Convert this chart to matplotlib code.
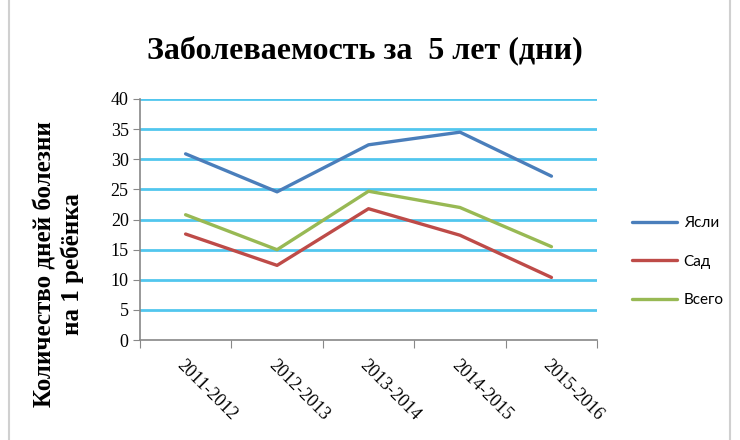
import matplotlib
matplotlib.use("Agg")
import matplotlib.pyplot as plt
from matplotlib.patches import Rectangle

categories = ["2011-2012", "2012-2013", "2013-2014", "2014-2015", "2015-2016"]
yasli = [30.9, 24.6, 32.4, 34.5, 27.2]
sad = [17.6, 12.4, 21.8, 17.4, 10.4]
vsego = [20.8, 15.0, 24.7, 22.0, 15.5]
series_names = ["Ясли", "Сад", "Всего"]
yticks = [0, 5, 10, 15, 20, 25, 30, 35, 40]

fig = plt.figure(figsize=(7.4, 4.4), dpi=100)
ax = fig.add_axes([0.189, 0.227, 0.618, 0.548])

for v in yticks[1:]:
    ax.axhline(v, color="#52C6EE", lw=2.0, zorder=1)

x = range(len(categories))
colors = ["#4A7EBB", "#BE4B48", "#98B954"]
for vals, c, n in zip([yasli, sad, vsego], colors, series_names):
    ax.plot(x, vals, color=c, lw=2.4, label=n, zorder=3, solid_capstyle="round")

ax.set_xlim(-0.5, 4.5)
ax.set_ylim(0, 40)
ax.set_yticks(yticks)
ax.set_xticks([i - 0.5 for i in range(6)], minor=False)
ax.set_xticklabels([])
ax.set_xticks(list(x), minor=True)
ax.set_xticklabels(categories, minor=True, rotation=-45, ha="left", va="top",
                   rotation_mode="anchor", family="Liberation Serif", fontsize=13)
ax.tick_params(axis="x", which="minor", length=0, pad=12)
ax.tick_params(axis="x", which="major", length=6, color="#888888", direction="out")
ax.tick_params(axis="y", length=5, color="#888888", direction="out", pad=3)
for lbl in ax.get_yticklabels():
    lbl.set_family("Liberation Serif")
    lbl.set_fontsize(13)
for s in ["top", "right"]:
    ax.spines[s].set_visible(False)
for s in ["left", "bottom"]:
    ax.spines[s].set_color("#888888")
    ax.spines[s].set_linewidth(1.2)

fig.text(0.493, 0.886, "Заболеваемость за  5 лет (дни)", ha="center", va="center",
         family="Liberation Serif", fontweight="bold", fontsize=23)
fig.text(0.079, 0.40, "Количество дней болезни\nна 1 ребёнка", ha="center", va="center",
         rotation=90, family="Liberation Serif", fontweight="bold", fontsize=18,
         linespacing=1.2)

leg = fig.legend(loc="upper left", bbox_to_anchor=(0.835, 0.54), frameon=False,
                 prop={"family": "Lato", "size": 11}, handlelength=3.0,
                 labelspacing=1.6, handletextpad=0.4)

fig.patches.append(Rectangle((0.012, -0.05), 0.975, 1.2, transform=fig.transFigure,
                             fill=False, edgecolor="#D0D0D0", lw=1.5))
fig.savefig("out.png", dpi=100)
